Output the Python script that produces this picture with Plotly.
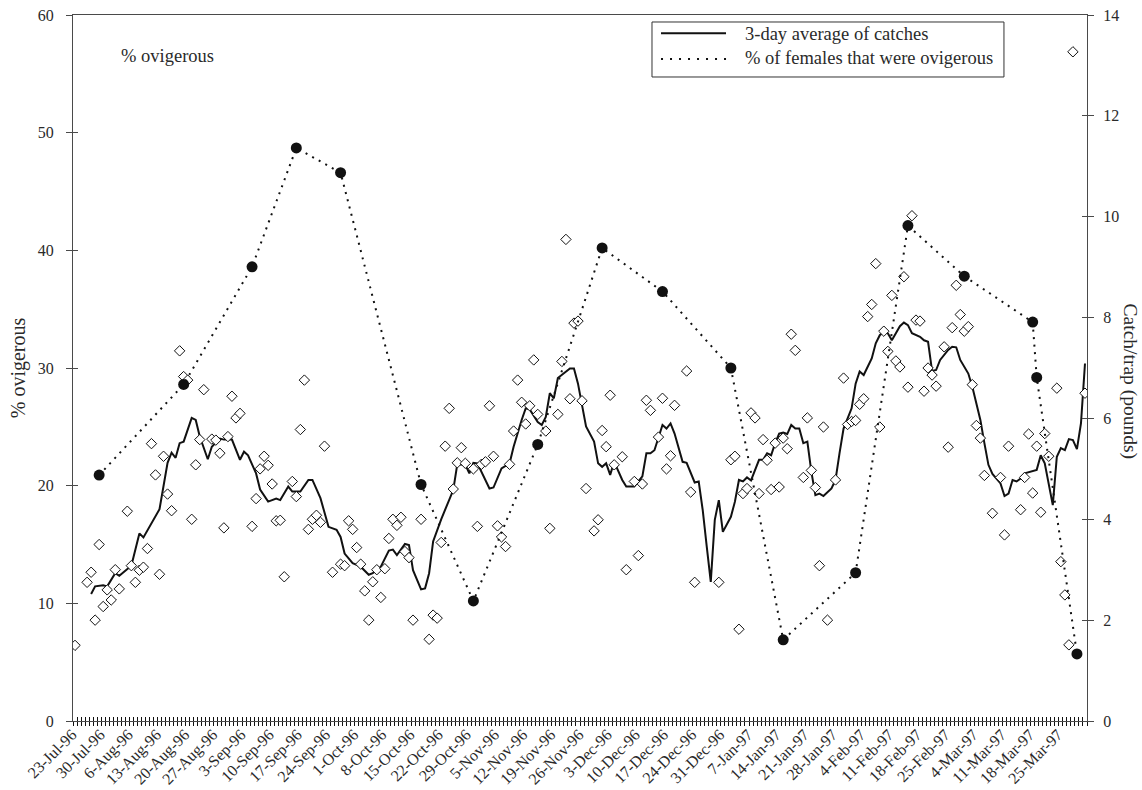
import pandas as pd
import plotly.graph_objects as go

# Sampling period: 23-Jul-96 .. 31-Mar-97 (one category per day)
START = pd.Timestamp("1996-07-23")
END = pd.Timestamp("1997-03-31")

# Daily catch per trap (pounds), keyed by day number since 23-Jul-96
catch_day = [0, 3, 4, 5, 6, 7, 8, 9, 10, 11, 13, 14, 15, 16, 17, 18, 19, 20, 21, 22,
             23, 24, 26, 27, 28, 29, 30, 31, 32, 34, 35, 36, 37, 38, 39, 40, 41, 44, 45, 46,
             47, 48, 49, 50, 51, 52, 54, 55, 56, 57, 58, 59, 60, 61, 62, 64, 66, 67, 68, 69,
             70, 71, 72, 73, 74, 75, 76, 77, 78, 79, 80, 81, 82, 83, 84, 86, 88, 89, 90, 91,
             92, 93, 94, 95, 96, 97, 99, 100, 101, 102, 103, 104, 105, 106, 107, 108, 109, 110, 111, 112,
             113, 114, 115, 117, 118, 120, 121, 122, 123, 124, 125, 126, 127, 129, 130, 131, 132, 133, 134, 136,
             137, 139, 140, 141, 142, 143, 145, 146, 147, 148, 149, 152, 153, 154, 160, 163, 164, 165, 166, 167,
             168, 169, 170, 171, 172, 173, 174, 175, 176, 177, 178, 179, 181, 182, 183, 184, 185, 186, 187, 189,
             191, 192, 193, 194, 195, 196, 197, 198, 199, 200, 201, 202, 203, 204, 205, 206, 207, 208, 209, 210,
             211, 212, 213, 214, 216, 217, 218, 219, 220, 221, 222, 223, 224, 225, 226, 228, 230, 231, 232, 235,
             236, 237, 238, 239, 240, 241, 242, 244, 245, 246, 247, 248, 251]
catch_val = [1.50, 2.75, 2.95, 2.00, 3.50, 2.27, 2.60, 2.40, 3.00, 2.62, 4.16, 3.08, 2.75, 2.99, 3.05, 3.42, 5.50, 4.88, 2.91, 5.25,
             4.50, 4.17, 7.34, 6.83, 6.76, 4.00, 5.08, 5.58, 6.57, 5.59, 5.57, 5.31, 3.83, 5.64, 6.44, 6.01, 6.10, 3.86, 4.41, 5.00,
             5.25, 5.07, 4.70, 3.97, 3.98, 2.86, 4.75, 4.45, 5.78, 6.76, 3.80, 4.00, 4.08, 3.94, 5.45, 2.95, 3.11, 3.08, 3.97, 3.80,
             3.44, 3.11, 2.58, 2.00, 2.76, 3.00, 2.45, 3.02, 3.62, 4.00, 3.88, 4.04, 3.36, 3.24, 2.00, 4.00, 1.62, 2.10, 2.04, 3.54,
             5.45, 6.20, 4.60, 5.12, 5.42, 5.11, 5.00, 3.86, 5.09, 5.14, 6.25, 5.25, 3.87, 3.65, 3.46, 5.09, 5.75, 6.76, 6.32, 5.89,
             6.25, 7.16, 6.08, 5.75, 3.82, 6.08, 7.13, 9.55, 6.39, 7.89, 7.93, 6.35, 4.61, 3.77, 3.99, 5.76, 5.44, 6.46, 5.08, 5.24,
             3.00, 4.75, 3.28, 4.70, 6.36, 6.16, 5.63, 6.40, 5.00, 5.26, 6.26, 6.94, 4.54, 2.75, 2.75, 5.18, 5.25, 1.82, 4.51, 4.61,
             6.11, 6.01, 4.51, 5.58, 5.17, 4.59, 5.51, 4.64, 5.61, 5.40, 7.67, 7.35, 4.83, 6.01, 4.97, 4.63, 3.08, 5.83, 2.00, 4.78,
             6.80, 5.88, 5.94, 5.96, 6.28, 6.39, 8.02, 8.26, 9.07, 5.83, 7.73, 7.33, 8.44, 7.14, 7.02, 8.81, 6.62, 10.02, 7.95, 7.93,
             6.54, 7.00, 6.86, 6.64, 7.42, 5.43, 7.80, 8.64, 8.06, 7.73, 7.82, 6.67, 5.86, 5.61, 4.87, 4.12, 4.83, 3.69, 5.45, 4.19,
             4.83, 5.69, 4.52, 5.45, 4.14, 5.70, 5.25, 6.60, 3.16, 2.50, 1.51, 13.27, 6.50]

# 3-day average of catches (pounds per trap)
avg_day = [4, 5, 7, 8, 10, 11, 14, 16, 17, 21, 23, 24, 25, 26, 27, 29, 30, 31, 33, 34,
           36, 37, 39, 41, 42, 43, 45, 46, 48, 50, 51, 53, 54, 56, 58, 59, 61, 63, 65, 66,
           67, 69, 71, 73, 74, 76, 78, 79, 80, 82, 83, 84, 86, 87, 88, 89, 91, 94, 95, 97,
           98, 99, 100, 101, 103, 104, 106, 108, 109, 111, 112, 113, 115, 116, 117, 118, 119, 120, 122, 123,
           124, 125, 127, 129, 130, 131, 132, 133, 134, 136, 137, 139, 140, 141, 142, 143, 144, 145, 146, 147,
           148, 149, 151, 152, 153, 154, 155, 156, 157, 158, 159, 160, 161, 163, 164, 165, 166, 167, 168, 170,
           171, 172, 173, 174, 175, 176, 177, 178, 179, 180, 181, 182, 183, 184, 185, 186, 188, 189, 190, 191,
           193, 194, 195, 196, 198, 199, 200, 201, 202, 203, 204, 205, 206, 207, 208, 210, 211, 212, 213, 214,
           215, 217, 218, 219, 220, 221, 222, 223, 224, 225, 226, 227, 228, 230, 231, 232, 233, 234, 235, 236,
           239, 240, 241, 243, 244, 245, 246, 247, 248, 249, 250, 251]
avg_val = [2.52, 2.67, 2.69, 2.67, 2.93, 2.88, 3.08, 3.72, 3.64, 4.20, 5.12, 5.32, 5.22, 5.51, 5.54, 6.01, 5.97, 5.64, 5.19, 5.44,
           5.60, 5.58, 5.58, 5.18, 5.34, 5.27, 4.91, 4.59, 4.35, 4.41, 4.38, 4.65, 4.55, 4.55, 4.78, 4.78, 4.42, 3.85, 3.79, 3.65,
           3.32, 3.13, 3.06, 2.90, 2.93, 3.06, 3.38, 3.40, 3.29, 3.51, 3.49, 2.99, 2.61, 2.63, 2.93, 3.56, 4.00, 4.58, 5.09, 5.08,
           4.91, 5.12, 5.11, 4.94, 4.61, 4.63, 5.01, 5.11, 5.44, 5.97, 6.20, 6.18, 5.93, 5.87, 6.03, 6.50, 6.40, 6.80, 6.93, 6.99,
           6.99, 6.69, 5.84, 5.54, 5.11, 5.04, 5.11, 4.88, 5.14, 4.78, 4.65, 4.65, 4.75, 4.85, 5.31, 5.31, 5.37, 5.64, 5.87, 5.80,
           5.90, 5.70, 5.14, 5.12, 4.91, 4.73, 4.75, 4.18, 3.46, 2.76, 3.99, 4.38, 3.75, 4.05, 4.35, 4.78, 4.75, 4.83, 4.77, 5.18,
           5.18, 5.31, 5.27, 5.51, 5.70, 5.72, 5.69, 5.87, 5.80, 5.80, 5.51, 5.54, 4.94, 4.48, 4.51, 4.46, 4.61, 4.78, 5.31, 5.80,
           6.20, 6.69, 6.93, 6.86, 7.19, 7.49, 7.65, 7.72, 7.69, 7.55, 7.69, 7.83, 7.90, 7.85, 7.69, 7.62, 7.55, 7.52, 6.94, 6.96,
           7.16, 7.36, 7.42, 7.41, 7.16, 7.03, 6.89, 6.63, 6.30, 5.97, 5.51, 5.08, 4.90, 4.71, 4.46, 4.51, 4.78, 4.75, 4.81, 4.91,
           4.98, 5.27, 5.11, 4.28, 5.24, 5.41, 5.37, 5.59, 5.57, 5.39, 5.90, 7.09]

# Percentage of females that were ovigerous
ovig_day = [6, 27, 44, 55, 66, 86, 99, 115, 131, 146, 163, 176, 194, 207, 221, 238, 239, 249]
ovig_val = [20.9, 28.6, 38.6, 48.7, 46.6, 20.1, 10.2, 23.5, 40.2, 36.5, 30.0, 6.9, 12.6, 42.1, 37.8, 33.9, 29.2, 5.7]

# Weekly date labels on the category axis
week_labels = ["23-Jul-96", "30-Jul-96", "6-Aug-96", "13-Aug-96", "20-Aug-96", "27-Aug-96",
               "3-Sep-96", "10-Sep-96", "17-Sep-96", "24-Sep-96", "1-Oct-96", "8-Oct-96",
               "15-Oct-96", "22-Oct-96", "29-Oct-96", "5-Nov-96", "12-Nov-96", "19-Nov-96",
               "26-Nov-96", "3-Dec-96", "10-Dec-96", "17-Dec-96", "24-Dec-96", "31-Dec-96",
               "7-Jan-97", "14-Jan-97", "21-Jan-97", "28-Jan-97", "4-Feb-97", "11-Feb-97",
               "18-Feb-97", "25-Feb-97", "4-Mar-97", "11-Mar-97", "18-Mar-97", "25-Mar-97"]

left_ticks = [0, 10, 20, 30, 40, 50, 60]
right_ticks = [0, 2, 4, 6, 8, 10, 12, 14]


def to_dates(days):
    return [START + pd.Timedelta(days=d) for d in days]


FONT = "Liberation Serif, Times New Roman, serif"
INK = "#111111"
AXIS = "#4a4a4a"
TXT = "#2a2a2a"
HALF_DAY = pd.Timedelta(hours=12)
x_range = [START - HALF_DAY, END + HALF_DAY]
DAY_MS = 86400000

fig = go.Figure()

# 3-day running average (right axis)
fig.add_trace(go.Scatter(
    x=to_dates(avg_day), y=avg_val, mode="lines", yaxis="y",
    line=dict(color=INK, width=2), showlegend=False, name="3-day average of catches"))

# Daily catches (right axis)
fig.add_trace(go.Scatter(
    x=to_dates(catch_day), y=catch_val, mode="markers", yaxis="y",
    marker=dict(symbol="diamond", size=8, color="white", line=dict(color=INK, width=1)),
    showlegend=False, name="Catch/trap"))

# % ovigerous (left axis)
fig.add_trace(go.Scatter(
    x=to_dates(ovig_day), y=ovig_val, mode="lines+markers", yaxis="y2",
    line=dict(color=INK, width=2, dash="2px,5.5px"),
    marker=dict(symbol="circle", size=11, color=INK),
    showlegend=False, name="% of females that were ovigerous"))

# Empty traces so the tick-only overlay axes get drawn
for xa, ya in [("x2", "y"), ("x3", "y"), ("x", "y3"), ("x", "y4")]:
    fig.add_trace(go.Scatter(x=[], y=[], xaxis=xa, yaxis=ya, mode="markers",
                             showlegend=False, hoverinfo="skip"))

tick_font = dict(family=FONT, size=16, color=TXT)
common = dict(showgrid=False, zeroline=False, automargin=False)

fig.update_layout(
    width=1142, height=790,
    margin=dict(l=73, r=55, t=15, b=69, pad=0),
    paper_bgcolor="white", plot_bgcolor="white",
    font=dict(family=FONT, color=TXT),
    showlegend=False,
    # base date axis: labels and frame
    xaxis=dict(type="date", range=x_range, showline=True, linecolor=AXIS, linewidth=1,
               mirror=True, tickmode="array", tickvals=pd.to_datetime(week_labels, format="%d-%b-%y"),
               ticktext=week_labels, ticks="", tickangle=-45, tickfont=tick_font,
               ticklabelstandoff=-3, ticklabelshift=-3, **common),
    # daily tick marks, outside half
    xaxis2=dict(type="date", range=x_range, overlaying="x", anchor="y", side="bottom",
                tickmode="linear", tick0=START - HALF_DAY, dtick=DAY_MS, ticks="outside",
                ticklen=4, tickwidth=1, tickcolor=INK, showticklabels=False, showline=False, **common),
    # daily tick marks, inside half
    xaxis3=dict(type="date", range=x_range, overlaying="x", anchor="y", side="bottom",
                tickmode="linear", tick0=START - HALF_DAY, dtick=DAY_MS, ticks="inside",
                ticklen=4, tickwidth=1, tickcolor=INK, showticklabels=False, showline=False, **common),
    # catch axis (right)
    yaxis=dict(range=[0, 14], side="right", tickmode="array", tickvals=right_ticks,
               showline=True, linecolor=AXIS, linewidth=1, ticks="outside", ticklen=6,
               tickcolor=AXIS, tickfont=tick_font, ticklabelstandoff=6, **common),
    # % ovigerous axis (left)
    yaxis2=dict(range=[0, 60], side="left", overlaying="y", anchor="x", tickmode="array",
                tickvals=left_ticks, showline=True, linecolor=AXIS, linewidth=1,
                ticks="outside", ticklen=6, tickcolor=AXIS, tickfont=tick_font,
                ticklabelstandoff=9, **common),
    yaxis3=dict(range=[0, 14], side="right", overlaying="y", anchor="x", tickmode="array",
                tickvals=right_ticks, ticks="inside", ticklen=5, tickcolor=AXIS,
                showticklabels=False, showline=False, **common),
    yaxis4=dict(range=[0, 60], side="left", overlaying="y", anchor="x", tickmode="array",
                tickvals=left_ticks, ticks="inside", ticklen=5, tickcolor=AXIS,
                showticklabels=False, showline=False, **common),
)

# Axis titles and inner caption
fig.add_annotation(text="% ovigerous", xref="paper", yref="paper", x=-0.054, y=0.5,
                   xanchor="center", yanchor="middle", textangle=-90, showarrow=False,
                   font=dict(family=FONT, size=20, color=TXT))
fig.add_annotation(text="Catch/trap (pounds)", xref="paper", yref="paper", x=1.0425, y=0.482,
                   xanchor="center", yanchor="middle", textangle=90, showarrow=False,
                   font=dict(family=FONT, size=19.5, color=TXT))
fig.add_annotation(text="% ovigerous", xref="paper", yref="paper", x=0.0454, y=0.942,
                   xanchor="left", yanchor="middle", showarrow=False,
                   font=dict(family=FONT, size=18.5, color=TXT))

# Legend box
fig.add_shape(type="rect", xref="paper", yref="paper", x0=0.5710, x1=0.9181, y0=0.9122, y1=0.9901,
              line=dict(color="#333333", width=1), fillcolor="white", layer="above")
fig.add_shape(type="line", xref="paper", yref="paper", x0=0.5799, x1=0.6440, y0=0.9741, y1=0.9741,
              line=dict(color=INK, width=2), layer="above")
fig.add_shape(type="line", xref="paper", yref="paper", x0=0.5799, x1=0.6440, y0=0.9377, y1=0.9377,
              line=dict(color=INK, width=2, dash="2px,7px"), layer="above")
fig.add_annotation(text="3-day average of catches", xref="paper", yref="paper", x=0.6607, y=0.9725,
                   xanchor="left", yanchor="middle", showarrow=False,
                   font=dict(family=FONT, size=18.5, color=TXT))
fig.add_annotation(text="% of females that were ovigerous", xref="paper", yref="paper", x=0.6607,
                   y=0.9387, xanchor="left", yanchor="middle", showarrow=False,
                   font=dict(family=FONT, size=18.5, color=TXT))

fig.write_html("out.html")
